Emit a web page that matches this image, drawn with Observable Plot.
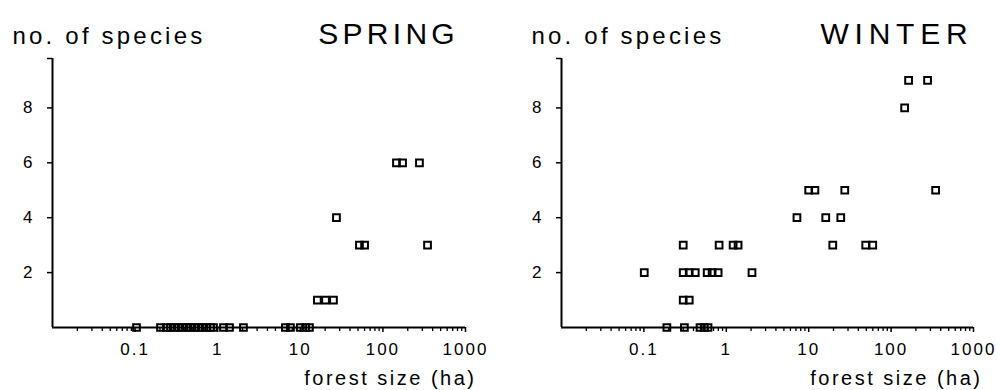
<!DOCTYPE html>
<html>
<head>
<meta charset="utf-8">
<script src="https://cdn.jsdelivr.net/npm/d3@7"></script>
<script src="https://cdn.jsdelivr.net/npm/@observablehq/plot@0.6"></script>
<style>
  html, body { margin: 0; padding: 0; background: #fff; }
  #wrap { display: flex; width: 997px; height: 390px; }
</style>
</head>
<body>
<div id="wrap"></div>
<script>
// ---- data (forest size in ha, number of species) ----
const springSize = [0.104, 0.203, 0.24, 0.268, 0.30, 0.335, 0.375, 0.419, 0.469, 0.524, 0.586, 0.655, 0.731, 0.818, 0.889, 1.175, 1.39, 2.05, 6.6, 7.6, 10.0, 11.6, 12.9,
  16.1, 20.2, 25.2,
  52, 60, 347,
  27.4,
  146, 173, 277];
const springSpecies = [0, 0, 0, 0, 0, 0, 0, 0, 0, 0, 0, 0, 0, 0, 0, 0, 0, 0, 0, 0, 0, 0, 0,
  1, 1, 1,
  3, 3, 3,
  4,
  6, 6, 6];

const winterSize = [0.19, 0.31, 0.48, 0.54, 0.60,
  0.30, 0.355,
  0.101, 0.30, 0.355, 0.42, 0.586, 0.673, 0.796, 2.05,
  0.30, 0.818, 1.21, 1.39, 19.6, 49.2, 59.9,
  7.2, 16.1, 24.5,
  10.0, 11.9, 27.4, 347,
  146,
  163, 277];
const winterSpecies = [0, 0, 0, 0, 0,
  1, 1,
  2, 2, 2, 2, 2, 2, 2, 2,
  3, 3, 3, 3, 3, 3, 3,
  4, 4, 4,
  5, 5, 5, 5,
  8,
  9, 9];

const xMajorTicks = [0.1, 1, 10, 100, 1000];
const xMajorLabels = ["0.1", "1", "10", "100", "1000"];
const yTicks = [2, 4, 6, 8];
const yLabel = "no. of species";
const xLabel = "forest size (ha)";
const panelTitles = ["SPRING", "WINTER"];

const xDomain = [0.01, 1000];
const yDomain = [0, 9.8];
const minorTicks = [];
for (const dec of [0.01, 0.1, 1, 10, 100]) for (let k = 2; k <= 9; k++) minorTicks.push(+(dec * k).toPrecision(3));

const spacing = {};
spacing[yLabel] = "3.2px";
spacing[xLabel] = "2.5px";
spacing[panelTitles[0]] = "4.3px";
spacing[panelTitles[1]] = "5.8px";

function panel(sizes, species, title, opts) {
  const data = sizes.map((s, i) => ({size: s, n: species[i]}));
  const svg = Plot.plot({
    width: opts.width,
    height: 390,
    marginLeft: opts.ml,
    marginRight: opts.mr,
    marginTop: 58,
    marginBottom: 63,
    style: {fontFamily: "'Liberation Sans', Arial, sans-serif", fontSize: "17px", letterSpacing: "2px", color: "#000", background: "#fff"},
    x: {type: "log", domain: xDomain},
    y: {domain: yDomain},
    marks: [
      Plot.axisX({ticks: minorTicks, tickSize: 4, tickFormat: () => "", label: null, strokeWidth: 1.3}),
      Plot.axisX({ticks: xMajorTicks, tickFormat: (d) => xMajorLabels[xMajorTicks.indexOf(d)], tickSize: 5, tickPadding: 10, label: null, strokeWidth: 1.5, fontSize: 17}),
      Plot.axisY({ticks: yTicks, tickSize: 5, tickPadding: 13, label: null, strokeWidth: 1.5, fontSize: 17}),
      Plot.axisY({ticks: [yDomain[1]], tickSize: 5, tickFormat: () => "", label: null, strokeWidth: 1.5}),
      Plot.ruleX([xDomain[0]], {stroke: "#000", strokeWidth: 2}),
      Plot.ruleY([0], {stroke: "#000", strokeWidth: 2}),
      Plot.dot(data, {x: "size", y: "n", symbol: "square", r: 3.8, stroke: "#000", strokeWidth: 2, fill: "none"}),
      Plot.text([yLabel], {frameAnchor: "top-left", textAnchor: "start", lineAnchor: "bottom", dx: opts.ylDx, dy: -15, fontSize: 24}),
      Plot.text([title], {frameAnchor: "top-right", textAnchor: "end", lineAnchor: "bottom", dx: opts.tDx, dy: -15, fontSize: 30}),
      Plot.text([xLabel], {frameAnchor: "bottom-right", textAnchor: "end", lineAnchor: "bottom", dx: opts.xlDx, dy: 57, fontSize: 20})
    ]
  });
  d3.select(svg).selectAll("text").each(function () {
    const s = spacing[this.textContent];
    if (s) this.style.letterSpacing = s;
  });
  return svg;
}

const wrap = document.getElementById("wrap");
wrap.appendChild(panel(springSize, springSpecies, panelTitles[0], {width: 498, ml: 52, mr: 33, ylDx: -40, tDx: -6.5, xlDx: 11}));
wrap.appendChild(panel(winterSize, winterSpecies, panelTitles[1], {width: 499, ml: 63, mr: 24, ylDx: -30, tDx: 0, xlDx: 9}));
</script>
</body>
</html>
